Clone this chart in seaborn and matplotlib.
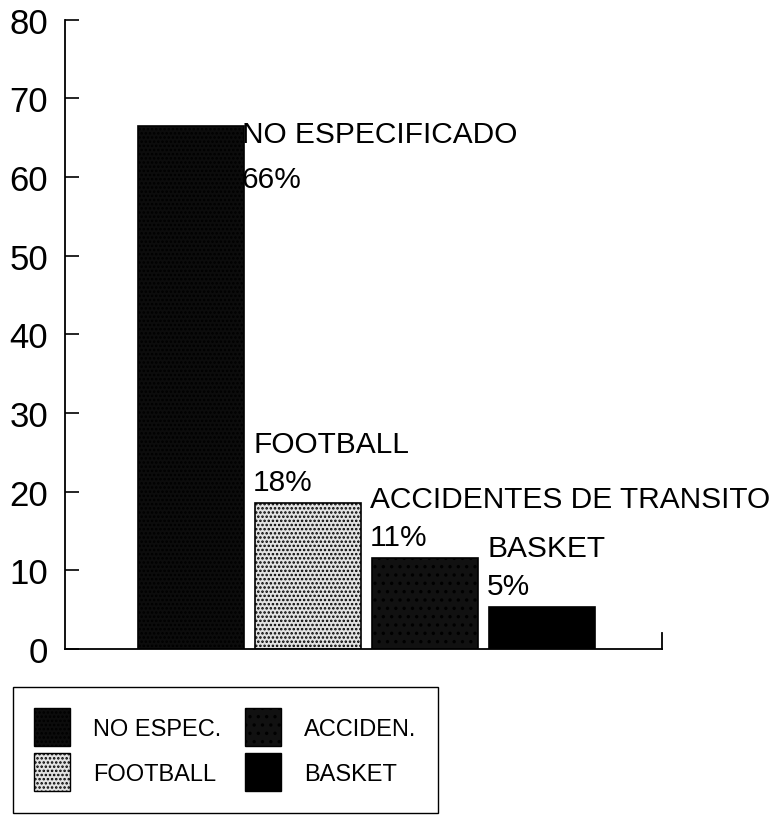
import seaborn as sns
import matplotlib.pyplot as plt
import matplotlib.patches as mpatches

# datos
causas = ["NO ESPECIFICADO", "FOOTBALL", "ACCIDENTES DE TRANSITO", "BASKET"]
alturas = [66.5, 18.5, 11.5, 5.3]
porcentajes = ["66%", "18%", "11%", "5%"]
leyenda = ["NO ESPEC.", "FOOTBALL", "ACCIDEN.", "BASKET"]
yticks = [0, 10, 20, 30, 40, 50, 60, 70, 80]

colores = ["#0c0c0c", "#e2e2e2", "#111111", "#000000"]
tramas = ["....", "....", "..", ""]
color_trama = ["#b4b4b4", "#8a8a8a", "#5e5e5e", "#000000"]

sns.set_style("white")
plt.rcParams["font.family"] = ["Liberation Sans", "DejaVu Sans"]
plt.rcParams["text.color"] = "black"
plt.rcParams["ytick.color"] = "black"
plt.rcParams["hatch.linewidth"] = 1.2

fig = plt.figure(figsize=(7.72, 8.29), dpi=100)
ax = fig.add_axes([0.084, 0.216, 0.773, 0.759])

sns.barplot(x=causas, y=alturas, hue=causas, palette=colores, legend=False,
            width=0.91, edgecolor="black", linewidth=1.2, saturation=1, ax=ax)

for bar, h, c in zip(ax.patches, tramas, color_trama):
    if h:
        bar.set_hatch(h)
        if hasattr(bar, "set_hatchcolor"):
            bar.set_hatchcolor(c)

# etiquetas de las barras (nombre arriba, porcentaje abajo)
for i, (nombre, h, p) in enumerate(zip(causas, alturas, porcentajes)):
    if i == 0:
        x, y_nom, y_pct = i + 0.43, h - 2.1, h - 7.8
    else:
        x, y_nom, y_pct = i - 0.47, h + 6.5, h + 1.7
    ax.text(x, y_nom, nombre, ha="left", va="baseline", fontsize=21.5)
    ax.text(x, y_pct, p, ha="left", va="baseline", fontsize=21.5)

ax.set_xlim(-1.08, 4.02)
ax.set_ylim(0, 80)
ax.set_yticks(yticks)
ax.tick_params(axis="y", left=True, direction="in", length=10, width=1.2,
               pad=12, labelsize=25, labelcolor="black")
ax.tick_params(axis="x", length=0, labelbottom=False)
ax.set_xlabel("")
ax.set_ylabel("")

for s in ["left", "bottom", "right"]:
    ax.spines[s].set_color("black")
    ax.spines[s].set_linewidth(1.3)
ax.spines["top"].set_visible(False)
ax.spines["right"].set_bounds(0, 2)

handles = [mpatches.Patch(facecolor=c, edgecolor="black", hatch=h)
           for c, h in zip(colores, tramas)]
for hd, c in zip(handles, color_trama):
    if hasattr(hd, "set_hatchcolor"):
        hd.set_hatchcolor(c)

leg = fig.legend(handles, leyenda, ncol=2, loc="upper left",
                 bbox_to_anchor=(13 / 772, 1 - 688 / 829), borderaxespad=0,
                 fontsize=17, handlelength=1.5, handleheight=2.1,
                 handletextpad=1.0, columnspacing=1.0, labelspacing=0.3,
                 borderpad=0.9, fancybox=False, framealpha=1,
                 edgecolor="black")
leg.get_frame().set_linewidth(1.0)

plt.savefig("out.png", dpi=100)
